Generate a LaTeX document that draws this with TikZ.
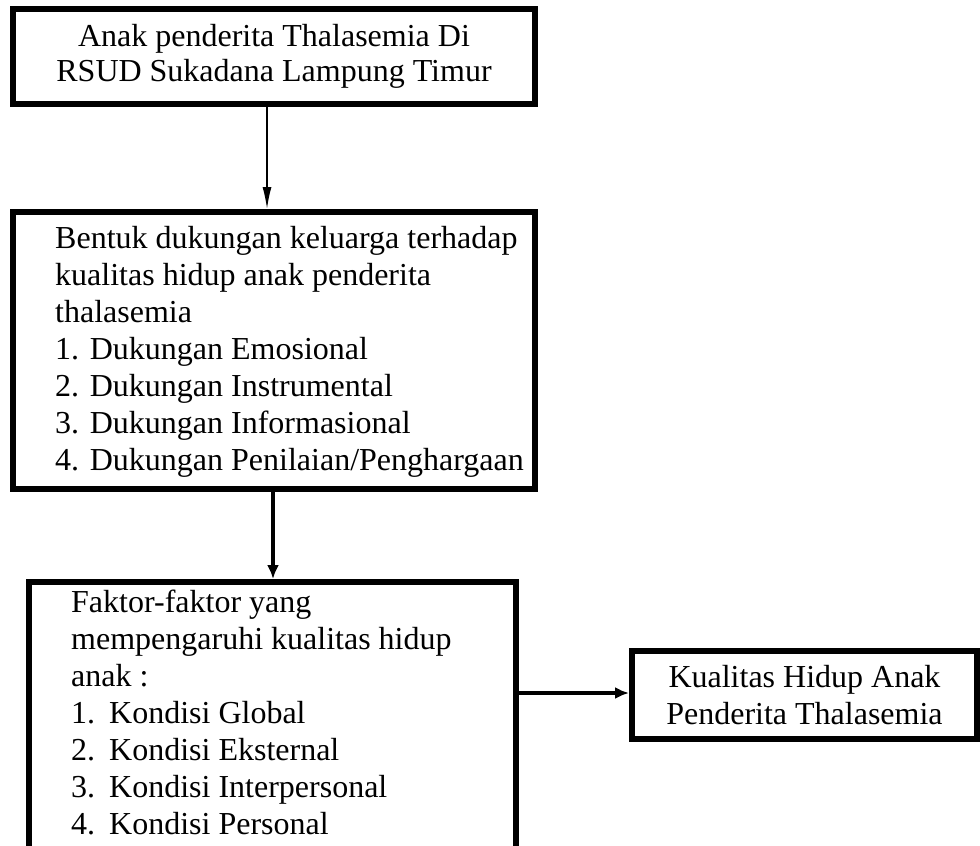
\documentclass[tikz,border=0pt]{standalone}
\usepackage{fontspec}
\setmainfont{Liberation Serif}
\usetikzlibrary{positioning,arrows.meta}
\tikzset{
  box/.style={draw, line width=6pt, inner sep=0pt},
  txt/.style={inner sep=0pt, align=left, font=\fontsize{32}{37}\selectfont},
}
\newcommand{\itm}[1]{\makebox[38pt][l]{#1}}

\begin{document}
\begin{tikzpicture}[x=1pt, y=-1pt]
\useasboundingbox (0,0) rectangle (980,846);
% kotak-kotak
\node [box, minimum width=522pt, minimum height=95pt, align=center,
  font=\fontsize{32}{35}\selectfont] (anak) at (274,56.5)
  {Anak penderita Thalasemia Di\\RSUD Sukadana Lampung Timur};
\node [box, minimum width=522pt, minimum height=277pt] (bentuk) at (274,350.5) {};
\node [txt, anchor=north west] (bentukteks) at (55,226)
  {Bentuk dukungan keluarga terhadap\\
   kualitas hidup anak penderita\\
   thalasemia\\
   1. Dukungan Emosional\\
   2. Dukungan Instrumental\\
   3. Dukungan Informasional\\
   4. Dukungan Penilaian/Penghargaan};
\node [box, minimum width=487pt, minimum height=300pt] (faktor) at (272.5,732) {};
\node [txt, anchor=north west] (faktorteks) at (71,590)
  {Faktor-faktor yang\\
   mempengaruhi kualitas hidup\\
   anak :\\
   \itm{1.}Kondisi Global\\
   \itm{2.}Kondisi Eksternal\\
   \itm{3.}Kondisi Interpersonal\\
   \itm{4.}Kondisi Personal};
\node [box, minimum width=345pt, minimum height=88pt, align=center,
  font=\fontsize{32}{37}\selectfont] (kualitas) at (804.5,695)
  {Kualitas Hidup Anak\\Penderita Thalasemia};
% panah
\draw [line width=1.5pt, -{Latex[length=22pt, width=9pt]}] (anak.south -| 267,0) -- (bentuk.north -| 267,0);
\draw [line width=4pt, -{Latex[length=14pt, width=12pt]}] (bentuk.south -| 273,0) -- (faktor.north -| 273,0);
\draw [line width=4pt, -{Latex[length=14pt, width=12pt]}] (faktor.east |- 0,693) -- (kualitas.west |- 0,693);
\end{tikzpicture}
\end{document}
